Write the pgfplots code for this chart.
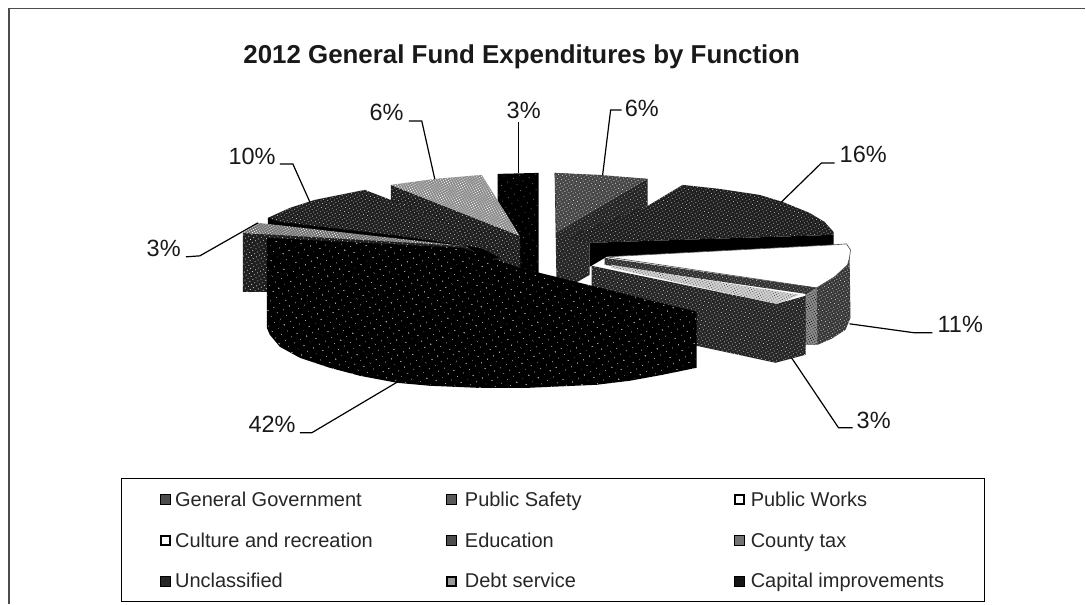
\documentclass[border=0pt]{standalone}
\usepackage{pgfplots}
\pgfplotsset{compat=1.18}
\usepackage{fontspec}
\usetikzlibrary{patterns.meta}
\setmainfont{Liberation Sans}
% slice surface: base tone with a scattered light halftone grain
\tikzset{
  tone/.style n args={3}{draw=none, preaction={fill=#1},
    pattern={Dots[distance=#2, radius=0.55pt, angle=30]}, pattern color=#3},
  flat/.style={draw=none, fill=#1},
  leader/.style={draw=black, line width=1.2pt},
  pct/.style={font=\fontsize{23.5}{25}\selectfont, text=black!90, inner sep=0pt},
  legtxt/.style={font=\fontsize{20}{22}\selectfont, text=black!85, anchor=base west, inner sep=0pt},
  key/.style={only marks, mark=square*, mark size=5pt, mark options={draw=black, line width=1pt, fill=#1}},
  hollowkey/.style={only marks, mark=square*, mark size=4.5pt, mark options={draw=black, line width=2pt, fill=#1}},
}
\begin{document}
\begin{tikzpicture}
\begin{axis}[
  scale only axis, width=1086pt, height=604pt,
  xmin=0, xmax=1086, ymin=0, ymax=604, y dir=reverse,
  hide axis, clip=false]
% page extent
\path (axis cs:0,0) rectangle (axis cs:1086,604);
% outer frame and legend box
\addplot[draw=black!70, line width=1.3pt] coordinates {(9,604) (9,8.5) (1086,8.5)};
\addplot[draw=black, line width=1.1pt] coordinates {(122,478.5) (985,478.5) (985,602) (122,602)} -- cycle;

% Capital improvements
\addplot[tone={black}{7pt}{black!55}] coordinates {(498,174) (539,173) (539,280) (498,275)} -- cycle;
% General Government: side, then top face
\addplot[tone={black!85}{3.2pt}{white!70!black}] coordinates {(555,173) (648,179) (648,207) (590,243) (590,275) (557,294)} -- cycle;
\addplot[tone={black!72}{3pt}{white!85!black}] coordinates {(555,173) (600,175) (648,179) (557,233)} -- cycle;
% Public Safety: top face, then the dark side band
\addplot[tone={black!88}{3pt}{white!70!black}] coordinates {(565,238) (648,206) (683,185) (720,189) (760,195) (783,202) (810,213) (825,222) (834,232) (834,235) (590,243)} -- cycle;
\addplot[flat=black] coordinates {(590,243) (834,235) (834,245) (607,257) (590,267)} -- cycle;
% Debt service: side, then top face
\addplot[tone={black!88}{3.2pt}{white!80!black}] coordinates {(391,185) (520,236) (521,275) (391,240)} -- cycle;
\addplot[tone={black!45}{2.2pt}{white}] coordinates {(391,185) (435,179) (482,175) (520,236)} -- cycle;
% Unclassified: side band, then top face
\addplot[flat=black] coordinates {(268,218) (391,200) (500,258) (470,262) (268,240)} -- cycle;
\addplot[tone={black!88}{3pt}{white!75!black}] coordinates {(268,218) (290,208) (315,200) (365,190) (391,200) (444,222) (492,250) (400,236) (280,222)} -- cycle;
% Public Works: outer side, lighter seam, inner strip and white top face
\addplot[tone={black!78}{2.8pt}{white!80!black}] coordinates {(817,288) (850,253) (851,318) (846,330) (832,339) (818,345) (805,345) (806,293)} -- cycle;
\addplot[tone={black!45}{2.4pt}{black}] coordinates {(806,293) (817,288) (818,345) (806,345)} -- cycle;
\addplot[draw=black!70, line width=0.6pt, fill=white] coordinates {(607,257) (834,245) (847,244) (851,250) (850,258) (848,265) (835,277) (817,288)} -- cycle;
\addplot[tone={black!80}{2.8pt}{white!70!black}] coordinates {(605,258) (817,288) (806,294) (605,265)} -- cycle;
% Culture and recreation: side, then top face
\addplot[tone={black!85}{3pt}{white!75!black}] coordinates {(592,266) (777,304) (806,296) (806,355) (776,363) (697,346) (592,320)} -- cycle;
\addplot[draw=white, line width=0.5pt, tone={black!18}{2.4pt}{black!70}] coordinates {(612,265) (800,295) (777,304) (612,268)} -- cycle;
% County tax: side, then top face
\addplot[tone={black!88}{3.6pt}{white!85!black}] coordinates {(243,233) (466,246) (490,262) (267,292) (243,292)} -- cycle;
\addplot[draw=white, line width=0.4pt, tone={black!55}{2.2pt}{white}] coordinates {(243,233) (258,223) (463,246)} -- cycle;
% Education: the large front slice
\addplot[tone={black}{6.5pt}{white!80!black}] coordinates {(267,238) (463,248) (520,268) (697,312) (697,368) (663,375) (630,381) (597,385) (530,388) (477,388) (430,386) (397,383) (360,376) (330,368) (300,358) (280,347) (270,335) (267,328)} -- cycle;

% leader lines from each slice to its percentage
\addplot[leader] coordinates {(603,175) (611,110) (622,110)};
\addplot[leader] coordinates {(782,202) (822,163) (835,163)};
\addplot[leader] coordinates {(850,324) (915,333) (933,333)};
\addplot[leader] coordinates {(792,358) (839,428) (853,428)};
\addplot[leader] coordinates {(398,382) (312,433) (300,433)};
\addplot[leader] coordinates {(258,223) (200,256) (186,257)};
\addplot[leader] coordinates {(310,202) (293,164) (280,164)};
\addplot[leader] coordinates {(435,179) (422,121) (409,121)};
\addplot[leader] coordinates {(519,173) (519,122)};

% title and percentages
\node[font=\fontsize{25.9}{28}\selectfont\bfseries, text=black!90, inner sep=0pt, anchor=base] at (axis cs:522,64) {2012 General Fund Expenditures by Function};
\node[pct, anchor=base west] at (axis cs:625,117) {6\%};
\node[pct, anchor=base west] at (axis cs:840,163) {16\%};
\node[pct, anchor=base west] at (axis cs:938,333) {11\%};
\node[pct, anchor=base west] at (axis cs:857,429) {3\%};
\node[pct, anchor=base east] at (axis cs:296,433) {42\%};
\node[pct, anchor=base east] at (axis cs:181,257) {3\%};
\node[pct, anchor=base east] at (axis cs:276,165) {10\%};
\node[pct, anchor=base east] at (axis cs:404,121) {6\%};
\node[pct, anchor=base] at (axis cs:524,119) {3\%};

% legend keys
\addplot[key=black!70] coordinates {(165.5,500)};
\addplot[key=black!65] coordinates {(452,500)};
\addplot[hollowkey=white] coordinates {(739.5,500)};
\addplot[hollowkey=white] coordinates {(165.5,541)};
\addplot[key=black!70] coordinates {(452,541)};
\addplot[key=black!55] coordinates {(739.5,541)};
\addplot[key=black!85] coordinates {(165.5,582)};
\addplot[hollowkey=black!40] coordinates {(452,582)};
\addplot[key=black!92] coordinates {(739.5,582)};

% legend labels
\node[legtxt] at (axis cs:175,507) {General Government};
\node[legtxt] at (axis cs:465,507) {Public Safety};
\node[legtxt] at (axis cs:751,507) {Public Works};
\node[legtxt] at (axis cs:175,548) {Culture and recreation};
\node[legtxt] at (axis cs:465,548) {Education};
\node[legtxt] at (axis cs:751,548) {County tax};
\node[legtxt] at (axis cs:175,588) {Unclassified};
\node[legtxt] at (axis cs:465,588) {Debt service};
\node[legtxt] at (axis cs:751,588) {Capital improvements};
\end{axis}
\end{tikzpicture}
\end{document}
